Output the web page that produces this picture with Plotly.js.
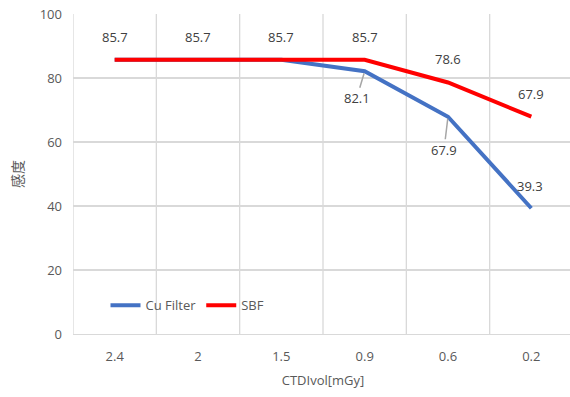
<!DOCTYPE html>
<html><head><meta charset="utf-8">
<script src="https://cdn.plot.ly/plotly-3.0.1.min.js"></script>
<style>html,body{margin:0;padding:0;overflow:hidden;background:#fff}</style>
</head><body>
<div id="chart" style="width:573px;height:397px"></div>
<script>
const categories = ["2.4", "2", "1.5", "0.9", "0.6", "0.2"];
const cuFilter = [85.7, 85.7, 85.7, 82.1, 67.9, 39.3];
const sbf = [85.7, 85.7, 85.7, 85.7, 78.6, 67.9];
const seriesNames = ["Cu Filter", "SBF"];
const yTicks = [0, 20, 40, 60, 80, 100];

const font = "Open Sans, Noto Sans, sans-serif";
const grey = "#595959";
const gridC = "#d9d9d9";

const traces = [
  {x: categories, y: cuFilter, name: seriesNames[0], type: "scatter", mode: "lines",
   line: {color: "#4472C4", width: 4}},
  {x: categories, y: sbf, name: seriesNames[1], type: "scatter", mode: "lines",
   line: {color: "#FF0000", width: 4}}
];

const annotations = [];
sbf.forEach((v, i) => {
  annotations.push({x: i, y: v, text: v.toFixed(1), showarrow: false,
    yshift: 23, font: {family: font, size: 13, color: "#404040"}});
});
const cuOffsets = {3: [-8, 27, true], 4: [-4, 33, true], 5: [-1, -22, false]};
cuFilter.forEach((v, i) => {
  if (!(i in cuOffsets)) return;
  const [ax, ay, arrow] = cuOffsets[i];
  if (arrow) {
    annotations.push({x: i, y: v, text: v.toFixed(1), showarrow: true,
      arrowhead: 0, arrowwidth: 1.5, arrowcolor: "#a6a6a6", ax: ax, ay: ay, standoff: 2,
      font: {family: font, size: 13, color: "#404040"}});
  } else {
    annotations.push({x: i, y: v, text: v.toFixed(1), showarrow: false,
      xshift: ax, yshift: -ay, font: {family: font, size: 13, color: "#404040"}});
  }
});

const boundaries = categories.map((c, i) => i - 0.5).concat([categories.length - 0.5]);

const layout = {
  width: 573, height: 397,
  margin: {l: 73, r: 0, t: 14, b: 63},
  paper_bgcolor: "#fff", plot_bgcolor: "#fff",
  showlegend: true,
  legend: {orientation: "h", x: 0.065, y: 0.09, xanchor: "left", yanchor: "middle",
    bgcolor: "rgba(0,0,0,0)", font: {family: font, size: 13, color: grey},
    itemwidth: 30, tracegroupgap: 0},
  xaxis: {type: "category", range: [-0.5, 5.5], showgrid: false,
    showline: true, linecolor: gridC, linewidth: 1.3, ticks: "", ticklabelstandoff: 10,
    tickfont: {family: font, size: 13, color: grey},
    title: {text: "CTDIvol[mGy]", font: {family: font, size: 13, color: grey}, standoff: 12}},
  yaxis: {range: [0, 100], tickvals: yTicks, ticktext: yTicks.map(String),
    showgrid: true, gridcolor: gridC, gridwidth: 1.3, zeroline: true, zerolinecolor: gridC,
    zerolinewidth: 1.3, ticks: "", ticklabelstandoff: 10,
    tickfont: {family: font, size: 13, color: grey},
    title: {text: "感度", font: {family: "Noto Sans CJK JP", size: 14, color: grey}, standoff: 12}},
  shapes: boundaries.map(b => ({type: "line", xref: "x", yref: "paper", x0: b, x1: b, y0: 0, y1: 1,
    line: {color: gridC, width: 1.3}, layer: "below"})),
  annotations: annotations
};

Plotly.newPlot("chart", traces, layout, {displayModeBar: false, staticPlot: true});
</script>
</body></html>
